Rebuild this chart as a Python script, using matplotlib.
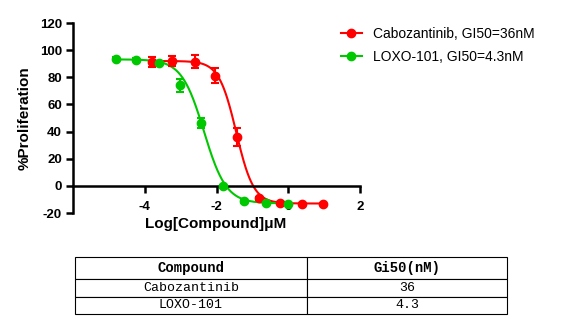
import numpy as np
import matplotlib.pyplot as plt

# Dose-response data (log[compound] in uM, % proliferation, SEM)
cabo_x = [-3.81, -3.23, -2.61, -2.03, -1.43, -0.82, -0.22, 0.38, 0.98]
cabo_y = [91.6, 92.0, 91.6, 81.0, 36.0, -9.2, -12.6, -13.0, -13.1]
cabo_err = [3.7, 3.5, 5.0, 5.5, 6.5, 1.0, 0.8, 0.5, 0.5]

loxo_x = [-4.81, -4.23, -3.61, -3.03, -2.43, -1.82, -1.22, -0.62, -0.02]
loxo_y = [93.6, 93.0, 90.6, 74.0, 46.2, -0.4, -11.4, -12.6, -13.0]
loxo_err = [1.0, 1.0, 1.2, 4.5, 3.5, 1.0, 1.0, 0.8, 0.8]

# 4PL fit parameters: top, bottom, logIC50, hill
cabo_fit = [92.0, -13.0, -1.45, 1.8]
loxo_fit = [93.2, -12.9, -2.35, 1.4]

legend_labels = ['Cabozantinib, GI50=36nM', 'LOXO-101, GI50=4.3nM']

table_header = ['Compound', 'Gi50(nM)']
table_rows = [['Cabozantinib', '36'], ['LOXO-101', '4.3']]


def four_pl(x, top, bottom, logic50, hill):
    return bottom + (top - bottom) / (1 + 10 ** ((x - logic50) * hill))


plt.rcParams['font.family'] = ['Liberation Sans', 'DejaVu Sans']
plt.rcParams['axes.unicode_minus'] = False

fig = plt.figure(figsize=(5.66, 3.30), dpi=100)
ax = fig.add_axes([73/566, 1-213/330, 287/566, 190/330])

series = [
    (cabo_x, cabo_y, cabo_err, cabo_fit, '#ff0000'),
    (loxo_x, loxo_y, loxo_err, loxo_fit, '#00c800'),
]
handles = []
for xs, ys, es, fit, col in series:
    xx = np.linspace(min(xs), max(xs), 300)
    ax.plot(xx, four_pl(xx, *fit), color=col, lw=1.5, zorder=2)
    ax.errorbar(xs, ys, yerr=es, fmt='none', ecolor=col, elinewidth=1.5,
                capsize=3, capthick=1.5, zorder=3)
    ax.plot(xs, ys, 'o', color=col, ms=6, zorder=4)
    h, = ax.plot([], [], '-o', color=col, lw=1.5, ms=6)
    handles.append(h)

ax.set_xlim(-6, 2)
ax.set_ylim(-20, 120)
ax.set_xticks([-4, -2, 0, 2])
ax.set_yticks(range(-20, 121, 20))
ax.spines['top'].set_visible(False)
ax.spines['right'].set_visible(False)
ax.spines['bottom'].set_position(('data', 0))
for s in ['left', 'bottom']:
    ax.spines[s].set_linewidth(1.8)
ax.tick_params(width=1.8, length=5, labelsize=9.5)
for lab in ax.get_xticklabels() + ax.get_yticklabels():
    lab.set_fontweight('bold')
ax.tick_params(axis='x', pad=6)
ax.tick_params(axis='y', pad=3)

ax.set_ylabel('%Proliferation', fontsize=11, fontweight='bold', labelpad=6)
fig.text(216/566, 1-224/330, 'Log[Compound]\u03bcM', fontsize=11,
         fontweight='bold', ha='center', va='center')

fig.legend(handles, legend_labels, loc='upper left',
           bbox_to_anchor=(341/566, 1-27/330), frameon=False, fontsize=10,
           handlelength=1.5, handletextpad=0.8, borderpad=0, borderaxespad=0,
           labelspacing=0.65)

# Table below the chart
tax = fig.add_axes([75/566, 1-314/330, 432/566, 57/330])
tax.axis('off')
tbl = tax.table(cellText=table_rows, colLabels=table_header,
                colWidths=[232/432, 200/432], cellLoc='center',
                bbox=[0, 0, 1, 1])
tbl.auto_set_font_size(False)
heights = [22, 18, 17]
for (r, c), cell in tbl.get_celld().items():
    cell.set_height(heights[r] / 57)
    cell.set_linewidth(0.8)
    cell.get_text().set_family(['Liberation Mono', 'DejaVu Sans Mono'])
    if r == 0:
        cell.get_text().set_fontsize(10)
        cell.get_text().set_fontweight('bold')
    else:
        cell.get_text().set_fontsize(9.5)

fig.savefig('out.png', dpi=100)
